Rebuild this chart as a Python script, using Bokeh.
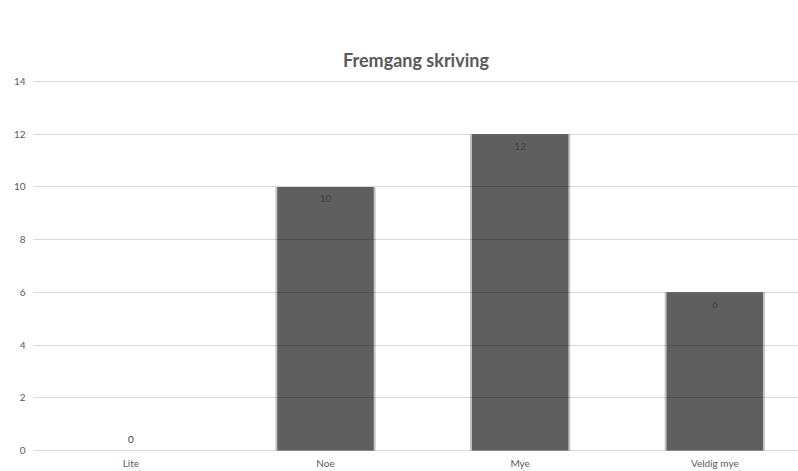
from bokeh.plotting import figure
from bokeh.models import Range1d, FixedTicker, ColumnDataSource
from bokeh.core.properties import value
from bokeh.embed import file_html
from bokeh.resources import INLINE

categories = ["Lite", "Noe", "Mye", "Veldig mye"]
counts = [0, 10, 12, 6]
y_ticks = [0, 2, 4, 6, 8, 10, 12, 14]
title_text = "Fremgang skriving"

xs = [i + 0.5 for i in range(len(categories))]
src = ColumnDataSource(dict(
    x=xs, top=counts, label=[str(c) for c in counts],
    off=[12 if c > 0 else -11 for c in counts],
))

p = figure(width=798, height=471, output_backend="svg", toolbar_location=None,
           x_range=Range1d(0, 3.93), y_range=Range1d(-0.04, 14.04),
           min_border_left=33, min_border_right=0, min_border_top=80,
           min_border_bottom=19, title=title_text)
p.outline_line_color = None
p.background_fill_color = "white"
p.border_fill_color = "white"

p.title.align = "center"
p.title.text_font = "Lato"
p.title.text_font_size = "18px"
p.title.text_font_style = "bold"
p.title.text_color = "#595959"
p.title.standoff = 20

# soft shadow edge, then the bar itself
p.vbar(x="x", top="top", width=0.515, bottom=0, source=src,
       fill_color="#7a7a7a", fill_alpha=0.45, line_color=None)
p.vbar(x="x", top="top", width=0.495, bottom=0, source=src,
       fill_color="#5f5f5f", line_color=None)

p.text(x="x", y="top", text="label", source=src, y_offset="off",
       text_align="center", text_baseline="middle",
       text_font=value("Lato"), text_font_size="10px", text_color="#404040")

for ax in (p.xaxis, p.yaxis):
    ax.axis_line_color = None
    ax.major_tick_line_color = None
    ax.minor_tick_line_color = None
    ax.major_label_text_font = "Lato"
    ax.major_label_text_font_size = "10px"
    ax.major_label_text_color = "#595959"

p.xaxis.ticker = FixedTicker(ticks=xs)
p.xaxis.major_label_overrides = {x: c for x, c in zip(xs, categories)}
p.xaxis.major_label_standoff = -1
p.yaxis.ticker = FixedTicker(ticks=y_ticks)
p.yaxis.major_label_standoff = 2

p.xgrid.grid_line_color = None
p.ygrid.grid_line_color = "black"
p.ygrid.grid_line_alpha = 0.15
p.ygrid.level = "overlay"

open("out.html", "w").write(file_html(p, INLINE))
